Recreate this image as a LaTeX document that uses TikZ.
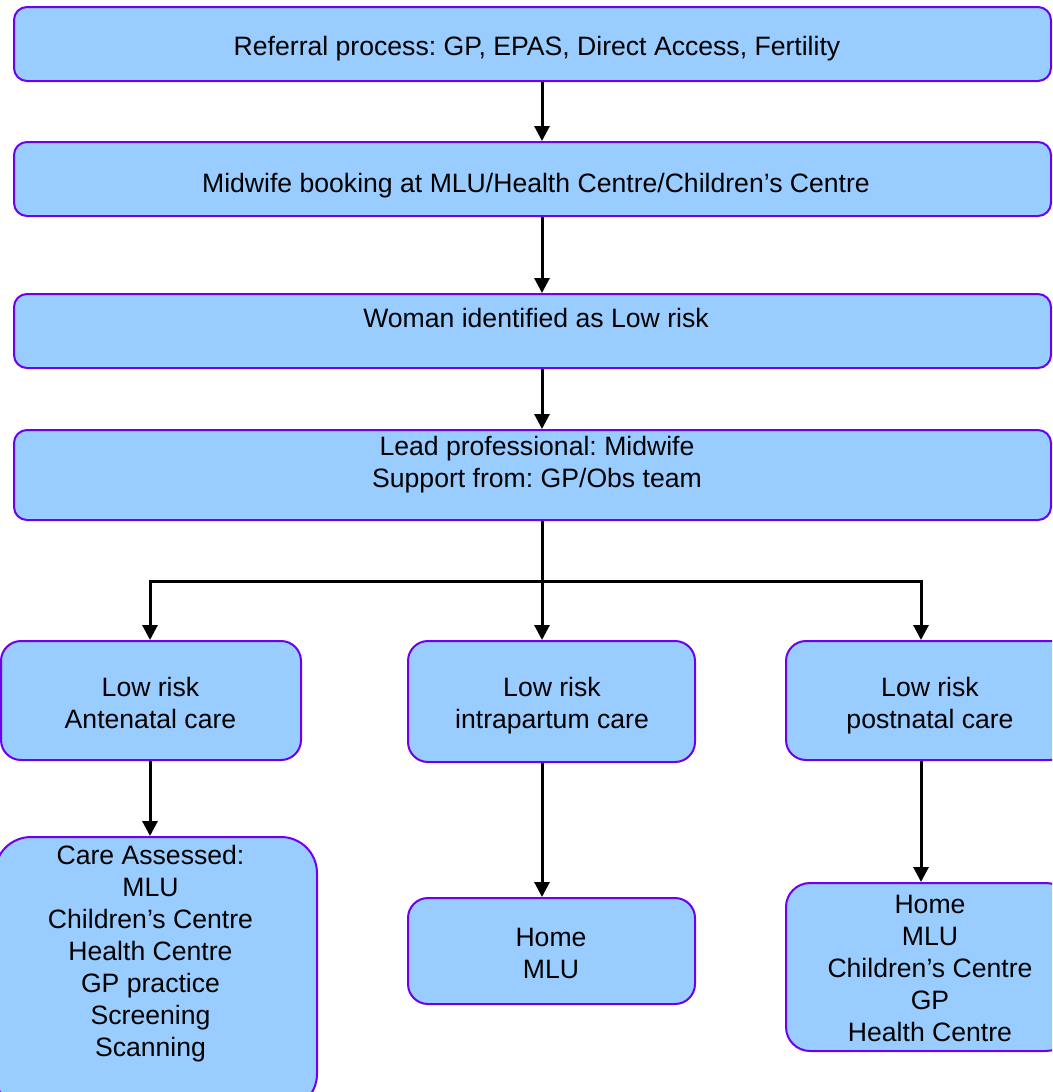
\documentclass[tikz,border=0pt]{standalone}
\usepackage{fontspec}
\setmainfont{Liberation Sans}
\usetikzlibrary{arrows.meta}
\definecolor{boxfill}{RGB}{153,204,255}
\definecolor{boxline}{RGB}{110,0,240}
\frenchspacing
\begin{document}
\begin{tikzpicture}[x=1pt,y=-1pt,
  box/.style={draw=boxline,fill=boxfill,line width=2pt,rectangle,inner sep=0pt},
  txt/.style={anchor=north,inner sep=0pt,align=center,font=\fontsize{26.6}{32}\selectfont},
  arr/.style={line width=3pt,-{Triangle[width=15pt,length=15pt]}},
  ln/.style={line width=3pt}]
\useasboundingbox (0,0) rectangle (1052,1092);
\clip (0,0) rectangle (1052,1092);
% boxes
\node[box,rounded corners=13pt,minimum width=1037pt,minimum height=74pt] (b1) at (532.5,44) {};
\node[box,rounded corners=13pt,minimum width=1037pt,minimum height=74pt] (b2) at (532.5,179) {};
\node[box,rounded corners=13pt,minimum width=1037pt,minimum height=74pt] (b3) at (532.5,331) {};
\node[box,rounded corners=13pt,minimum width=1037pt,minimum height=90pt] (b4) at (532.5,475) {};
\node[box,rounded corners=20pt,minimum width=300pt,minimum height=119pt] (ante) at (151,700.5) {};
\node[box,rounded corners=20pt,minimum width=287pt,minimum height=121pt] (intra) at (551.5,701.5) {};
\node[box,rounded corners=20pt,minimum width=284pt,minimum height=119pt] (post) at (928,700.5) {};
\node[box,rounded corners=36pt,minimum width=322pt,minimum height=273pt] (care) at (156,973.5) {};
\node[box,rounded corners=20pt,minimum width=287pt,minimum height=106pt] (home) at (551.5,951) {};
\node[box,rounded corners=24pt,minimum width=284pt,minimum height=168pt] (pbox) at (928,967) {};
% texts
\node[txt] (t1) at (537,32.6) {\strut Referral process: GP, EPAS, Direct Access, Fertility};
\node[txt] (t2) at (536,169.6) {\strut Midwife booking at MLU/Health Centre/Children’s Centre};
\node[txt] (t3) at (536,304.6) {\strut Woman identified as Low risk};
\node[txt] (t4) at (537,432.6) {\strut Lead professional: Midwife\\Support from: GP/Obs team};
\node[txt] (t5) at (150.5,673.6) {\strut Low risk\\Antenatal care};
\node[txt] (t6) at (552,673.6) {\strut Low risk\\intrapartum care};
\node[txt] (t7) at (930,673.6) {\strut Low risk\\postnatal care};
\node[txt] (t8) at (150.5,841.6) {\strut Care Assessed:\\MLU\\Children’s Centre\\Health Centre\\GP practice\\Screening\\Scanning};
\node[txt] (t9) at (551,923.6) {\strut Home\\MLU};
\node[txt] (t10) at (930,890.6) {\strut Home\\MLU\\Children’s Centre\\GP\\Health Centre};
% connectors
\coordinate (ax) at (542,0);
\coordinate (lx) at (150,0);
\coordinate (rx) at (921,0);
\coordinate (j) at (542,581);
\draw[arr] (b1.south -| ax) -- (b2.north -| ax);
\draw[arr] (b2.south -| ax) -- (b3.north -| ax);
\draw[arr] (b3.south -| ax) -- (b4.north -| ax);
\draw[ln] (b4.south -| ax) -- (j);
\draw[arr] (j) -- (intra.north -| ax);
\draw[arr] (j) -| (ante.north -| lx);
\draw[arr] (j) -| (post.north -| rx);
\draw[arr] (ante.south -| lx) -- (care.north -| lx);
\draw[arr] (intra.south -| ax) -- (home.north -| ax);
\draw[arr] (post.south -| rx) -- (pbox.north -| rx);
\end{tikzpicture}
\end{document}
